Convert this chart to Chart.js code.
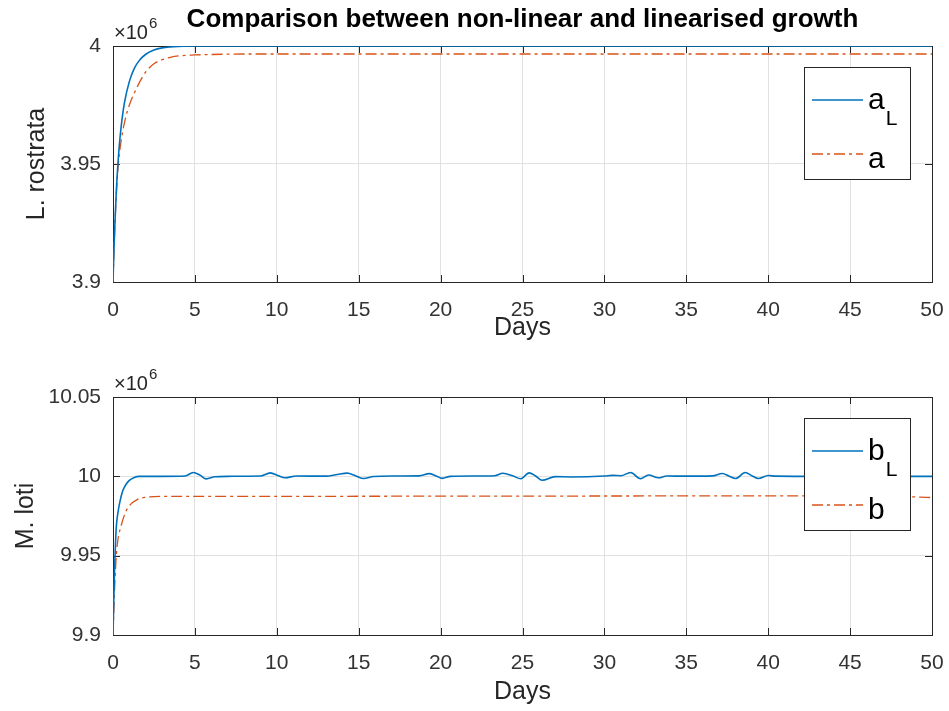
<!DOCTYPE html>
<html><head><meta charset="utf-8">
<script src="https://cdn.jsdelivr.net/npm/chart.js@4.4.1/dist/chart.umd.min.js"></script>
<style>
body{margin:0;background:#fff;width:949px;height:711px;overflow:hidden;position:relative}
.c{position:absolute;left:0;width:949px}
</style></head><body>
<div class="c" style="top:0;height:355px"><canvas id="cTop"></canvas></div>
<div class="c" style="top:355px;height:356px"><canvas id="cBot"></canvas></div>
<script>
// ---------- data (values in units of 10^6) ----------
const xTickValues = [0,5,10,15,20,25,30,35,40,45,50];
const xTickLabels = ['0','5','10','15','20','25','30','35','40','45','50'];

const yTickValuesTop = [3.9,3.95,4.0];
const yTickLabelsTop = ['3.9','3.95','4'];
const yTickValuesBot = [9.9,9.95,10.0,10.05];
const yTickLabelsBot = ['9.9','9.95','10','10.05'];

const daysAL = [0,0.05,0.1,0.2,0.3,0.4,0.5,0.7,1.0,1.3,1.6,2.0,2.5,3.0,3.5,4.0,5,10,20,30,40,50];
const valsAL = [3.900,3.912,3.922,3.938,3.950,3.959,3.966,3.976,3.985,3.9905,3.9938,3.9965,3.9983,3.9992,3.9996,3.9998,4.0,4.0,4.0,4.0,4.0,4.0];

const daysA = [0,0.1,0.2,0.3,0.5,0.75,1.0,1.5,2.0,2.5,3,3.5,4,5,6,8,20,30,40,50];
const valsA = [3.900,3.921,3.937,3.948,3.960,3.969,3.975,3.983,3.989,3.9925,3.9942,3.9952,3.9958,3.9962,3.9964,3.9966,3.9966,3.9966,3.9966,3.9966];

const daysBL = [0,0.05,0.1,0.15,0.2,0.3,0.4,0.6,0.8,1.0,1.3,1.6,3,4.4,4.9,5.3,5.7,6.2,7,9,9.6,10.1,10.5,11.2,13,13.7,14.3,14.8,15.3,15.9,17,18.7,19.3,19.7,20.1,20.6,22,23.3,23.8,24.4,24.9,25.4,25.8,26.2,27,28,30,30.5,31,31.6,32.2,32.7,33.3,33.8,35,36.6,37.2,37.6,38.0,38.6,39.0,39.4,40.0,40.5,42,44,46,48,50];
const valsBL = [9.9,9.922,9.943,9.957,9.968,9.977,9.983,9.991,9.995,9.9975,9.9993,10.0,10.0,10.0002,10.0024,10.0008,9.9984,9.9997,10.0,10.0002,10.0022,10.0003,9.9991,10.0002,10.0001,10.0012,10.0020,10.0004,9.9986,9.9999,10.0002,10.0003,10.0017,10.0004,9.9987,10.0,10.0002,10.0004,10.0019,10.0003,9.9985,10.0022,10.0002,9.9975,9.9998,9.9996,10.0002,10.0006,10.0004,10.0024,9.9985,10.0008,9.9991,10.0002,10.0001,10.0003,10.0018,10.0002,9.9986,10.0024,10.0004,9.9986,10.0005,10.0001,10.0,10.0,10.0,10.0,10.0];

const daysB = [0,0.1,0.2,0.3,0.5,0.75,1,1.5,2,3,10,20,30,40,45,48,49,50];
const valsB = [9.9,9.930,9.950,9.960,9.969,9.977,9.9815,9.9855,9.9868,9.9874,9.9874,9.9875,9.9876,9.9877,9.9877,9.9875,9.9870,9.9866];

const titleText = 'Comparison between non-linear and linearised growth';
const xTitle = 'Days';
const yTitleTop = 'L. rostrata';
const yTitleBot = 'M. loti';

// ---------- styling ----------
const FONT = '"Liberation Sans", Arial, Helvetica, sans-serif';
const BLUE = '#0072BD', RED = '#D95319', AX = '#262626';
const DASHDOT = [11,4,3,4];

function pts(d, v){ return d.map((x,i)=>({x:x, y:v[i]})); }

const frame = {
  id:'frame',
  beforeDatasetsDraw(chart){
    const {ctx, chartArea:a, scales:{x,y}} = chart;
    ctx.save();
    ctx.strokeStyle = AX; ctx.lineWidth = 1;
    ctx.beginPath();
    const tl = 7;
    xTickValues.forEach(v=>{
      const px = Math.round(x.getPixelForValue(v))+0.5;
      ctx.moveTo(px, a.bottom); ctx.lineTo(px, a.bottom - tl);
      ctx.moveTo(px, a.top); ctx.lineTo(px, a.top + tl);
    });
    chart.options.myYTicks.forEach(v=>{
      const py = Math.round(y.getPixelForValue(v))+0.5;
      ctx.moveTo(a.left, py); ctx.lineTo(a.left + tl, py);
      ctx.moveTo(a.right, py); ctx.lineTo(a.right - tl, py);
    });
    ctx.stroke();
    ctx.strokeRect(Math.round(a.left)+0.5, Math.round(a.top)+0.5, Math.round(a.right-a.left), Math.round(a.bottom-a.top));
    ctx.restore();
  },
  afterDatasetsDraw(chart){
    const {ctx, chartArea:a} = chart;
    const o = chart.options.myText;
    ctx.save();
    // legend
    const L = a.right - 128, T = a.top + 21, W = 106, H = 112;
    ctx.fillStyle = '#fff'; ctx.fillRect(L, T, W, H);
    ctx.strokeStyle = AX; ctx.lineWidth = 1; ctx.strokeRect(L+0.5, T+0.5, W, H);
    o.legend.forEach((e,i)=>{
      const ly = T + (i===0 ? 33 : 87);
      ctx.strokeStyle = e.color; ctx.lineWidth = 1.5; ctx.setLineDash(e.dash||[]);
      ctx.beginPath(); ctx.moveTo(L+8, ly); ctx.lineTo(L+59, ly); ctx.stroke();
      ctx.setLineDash([]);
      ctx.fillStyle = '#000'; ctx.textAlign = 'left'; ctx.textBaseline = 'alphabetic';
      ctx.font = '30px ' + FONT;
      const by = T + (i===0 ? 42 : 101);
      ctx.fillText(e.label, L+64, by);
      if (e.sub){
        const w = ctx.measureText(e.label).width;
        ctx.font = '21px ' + FONT;
        ctx.fillText(e.sub, L+64+w+1, by+16);
      }
    });
    // exponent label
    ctx.fillStyle = AX; ctx.textAlign='left'; ctx.textBaseline='alphabetic';
    ctx.font = '20px ' + FONT;
    ctx.fillText('\u00d710', a.left+1, a.top-7);
    const w2 = ctx.measureText('\u00d710').width;
    ctx.font = '15px ' + FONT;
    ctx.fillText('6', a.left+1+w2+1, a.top-18);
    // axis titles
    ctx.font = '25px ' + FONT; ctx.textAlign='center'; ctx.textBaseline='middle';
    ctx.fillText(xTitle, (a.left+a.right)/2, o.xTitleY);
    ctx.save();
    ctx.translate(o.yTitleX, (a.top+a.bottom)/2); ctx.rotate(-Math.PI/2);
    ctx.fillText(o.yTitle, 0, 0);
    ctx.restore();
    if (o.title){
      ctx.font = 'bold 26px ' + FONT; ctx.fillStyle = '#000';
      ctx.fillText(o.title, (a.left+a.right)/2, 20);
    }
    ctx.restore();
  }
};

function makeChart(id, dsets, ymin, ymax, yTicks, yLabels, padTop, xH, text){
  return new Chart(document.getElementById(id), {
    type:'line',
    data:{datasets:dsets},
    options:{
      responsive:true, maintainAspectRatio:false, animation:false, devicePixelRatio:1,
      layout:{padding:{top:padTop, right:17, left:0, bottom:0}},
      plugins:{legend:{display:false}, tooltip:{enabled:false}, title:{display:false}},
      elements:{point:{radius:0}, line:{cubicInterpolationMode:'monotone', borderCapStyle:'butt'}},
      myYTicks: yTicks, myText: text,
      scales:{
        x:{type:'linear', min:0, max:50,
           afterBuildTicks(s){ s.ticks = xTickValues.map(v=>({value:v})); },
           afterFit(s){ s.height = xH; s.paddingLeft = 0; s.paddingRight = 0; },
           grid:{color:'#e1e1e1', drawTicks:false, lineWidth:1},
           border:{display:false},
           ticks:{padding:16, color:'#333', font:{family:FONT, size:21},
                  callback:(v)=>xTickLabels[xTickValues.indexOf(v)] ?? ''}},
        y:{type:'linear', min:ymin, max:ymax,
           afterBuildTicks(s){ s.ticks = yTicks.map(v=>({value:v})); },
           afterFit(s){ s.width = 113; s.paddingTop = 0; s.paddingBottom = 0; },
           grid:{color:'#e1e1e1', drawTicks:false, lineWidth:1},
           border:{display:false},
           ticks:{padding:12, color:'#333', font:{family:FONT, size:21},
                  callback:(v)=>{ const i = yTicks.findIndex(t=>Math.abs(t-v)<1e-9); return i>=0 ? yLabels[i] : ''; }}}
      }
    },
    plugins:[frame]
  });
}

makeChart('cTop', [
  {label:'a_L', data:pts(daysAL, valsAL), borderColor:BLUE, borderWidth:1.6, fill:false},
  {label:'a', data:pts(daysA, valsA), borderColor:RED, borderWidth:1.3, borderDash:DASHDOT, fill:false}
], 3.9, 4.0, yTickValuesTop, yTickLabelsTop, 46, 73,
  {title:titleText, xTitleY:328, yTitle:yTitleTop, yTitleX:37,
   legend:[{color:BLUE, label:'a', sub:'L'},{color:RED, dash:DASHDOT, label:'a'}]});

makeChart('cBot', [
  {label:'b_L', data:pts(daysBL, valsBL), borderColor:BLUE, borderWidth:1.6, fill:false},
  {label:'b', data:pts(daysB, valsB), borderColor:RED, borderWidth:1.3, borderDash:DASHDOT, fill:false}
], 9.9, 10.05, yTickValuesBot, yTickLabelsBot, 42, 76,
  {title:null, xTitleY:337, yTitle:yTitleBot, yTitleX:26,
   legend:[{color:BLUE, label:'b', sub:'L'},{color:RED, dash:DASHDOT, label:'b'}]});
</script>
</body></html>
